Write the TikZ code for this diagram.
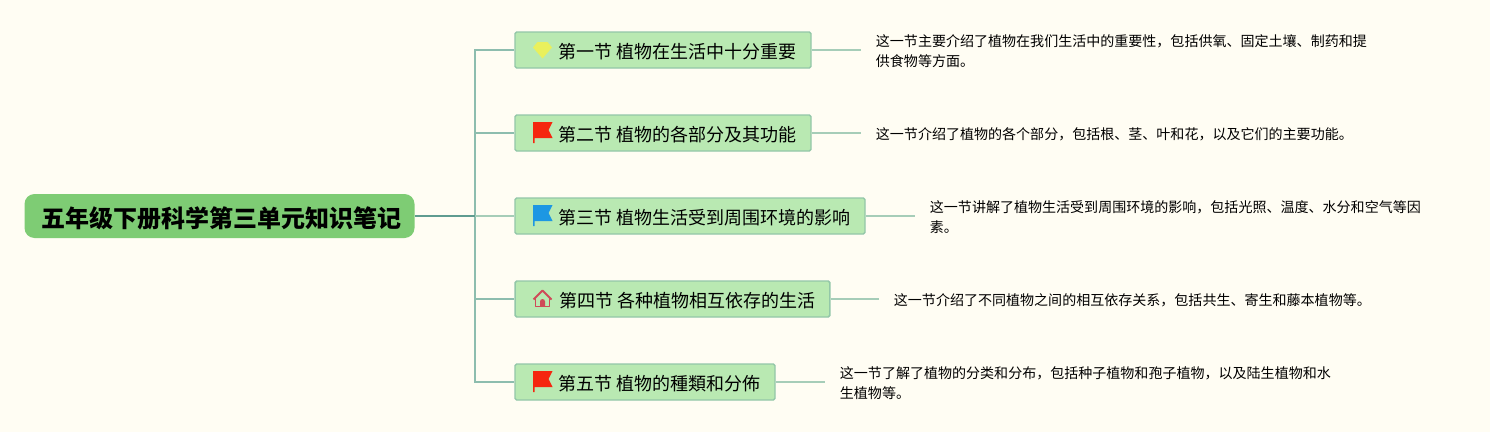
\documentclass[tikz,border=0pt]{standalone}
\usepackage{fontspec}
\setmainfont{Noto Sans CJK SC}
\usepackage{xcolor}
\definecolor{paper}{HTML}{FFFDF3}
\definecolor{rootgreen}{HTML}{7ECC74}
\definecolor{secgreen}{HTML}{B9E9B2}
\definecolor{secedge}{HTML}{93C7A8}
\definecolor{trunkline}{HTML}{8DBDAE}
\definecolor{rootline}{HTML}{5F9C90}
\definecolor{leafline}{HTML}{A6CDB8}
\definecolor{flagred}{HTML}{F5260F}
\definecolor{flagblue}{HTML}{1D97E3}
\definecolor{gemyellow}{HTML}{E9F05C}
\definecolor{homered}{HTML}{CF4A58}
\newcommand{\sectitle}[1]{\hspace{22pt}#1}
\tikzset{
    rootbox/.style={fill=rootgreen, rounded corners=7.5pt, minimum width=292.5pt, minimum height=33pt, text height=20pt, text depth=3pt, font=\fontsize{18}{20}\selectfont\bfseries, inner sep=0pt},
    secbox/.style={draw=secedge, line width=1.1pt, fill=secgreen, rounded corners=1.2pt, minimum height=27pt, text height=14.8pt, text depth=2pt, font=\fontsize{13.5}{16}\selectfont, inner sep=0pt},
    descnode/.style={anchor=west, align=left, inner xsep=11pt, inner ysep=0pt, font=\fontsize{10.52}{15}\selectfont},
    branch/.style={trunkline, line width=1.1pt},
    leafbranch/.style={leafline, line width=1.1pt},
    pics/flagicon/.style={code={
        \fill[#1] (-9.5,-10) -- (10,-10) -- (6,-2) -- (10,6) -- (-8,6) -- (-8,11) -- (-9.5,11) -- cycle;
    }},
    pics/gemicon/.style={code={
        \fill[gemyellow] (-5,-8) -- (5,-8) -- (9.5,-2.5) -- (0,8.5) -- (-9.5,-2.5) -- cycle;
    }},
    pics/homeicon/.style={code={
        \draw[homered, line width=1.4pt, line join=round] (-7,-1) -- (-7,8) -- (7,8) -- (7,-1);
        \draw[homered, line width=1.4pt, line join=round] (-9,1) -- (0,-8) -- (9,1);
        \fill[homered] (-2.5,8) -- (-2.5,3) arc (180:360:2.5) -- (2.5,8) -- cycle;
    }}
}
\begin{document}
\begin{tikzpicture}[x=0.75pt, y=-0.75pt]
    % Page
    \fill[paper] (0,0) rectangle (1490,432);
    \useasboundingbox (0,0) rectangle (1490,432);

    % Central topic
    \node[rootbox] (root) at (219.5,216) {\hspace{2.5pt}五年级下册科学第三单元知识笔记};

    % Sections
    \node[secbox, minimum width=222pt] (sec1) at (663,50) {\sectitle{第一节 植物在生活中十分重要}};
    \node[secbox, minimum width=222pt] (sec2) at (663,133) {\sectitle{第二节 植物的各部分及其功能}};
    \node[secbox, minimum width=262.5pt] (sec3) at (690,216) {\sectitle{第三节 植物生活受到周围环境的影响}};
    \node[secbox, minimum width=236pt] (sec4) at (672.5,299) {\sectitle{第四节 各种植物相互依存的生活}};
    \node[secbox, minimum width=195pt] (sec5) at (645,382) {\sectitle{第五节 植物的種類和分佈}};

    % Icons
    \pic at (542.5,50) {gemicon};
    \pic at (542.5,132) {flagicon=flagred};
    \pic at (542.5,215) {flagicon=flagblue};
    \pic at (542.5,298.5) {homeicon};
    \pic at (542.5,381) {flagicon=flagred};

    % Descriptions
    \node[descnode] (desc1) at (861,51.2) {这一节主要介绍了植物在我们生活中的重要性，包括供氧、固定土壤、制药和提\\供食物等方面。};
    \node[descnode] (desc2) at (861,134) {这一节介绍了植物的各个部分，包括根、茎、叶和花，以及它们的主要功能。};
    \node[descnode] (desc3) at (915,217) {这一节讲解了植物生活受到周围环境的影响，包括光照、温度、水分和空气等因\\素。};
    \node[descnode] (desc4) at (879,300) {这一节介绍了不同植物之间的相互依存关系，包括共生、寄生和藤本植物等。};
    \node[descnode] (desc5) at (825,383) {这一节了解了植物的分类和分布，包括种子植物和孢子植物，以及陆生植物和水\\生植物等。};

    % Trunk
    \coordinate (hub) at (475,216);
    \draw[branch] (sec1.west) -- (hub |- sec1.west) -- (hub |- sec5.west) -- (sec5.west);
    \draw[branch] (hub |- sec2.west) -- (sec2.west);
    \draw[branch] (hub |- sec4.west) -- (sec4.west);
    \draw[leafbranch] (hub) -- (sec3.west);
    \draw[rootline, line width=1.3pt] (root.east) -- (hub);

    % Section to description
    \foreach \i in {1,...,5}
        \draw[leafbranch] (sec\i.east) -- (desc\i.west |- sec\i.east);
\end{tikzpicture}
\end{document}
